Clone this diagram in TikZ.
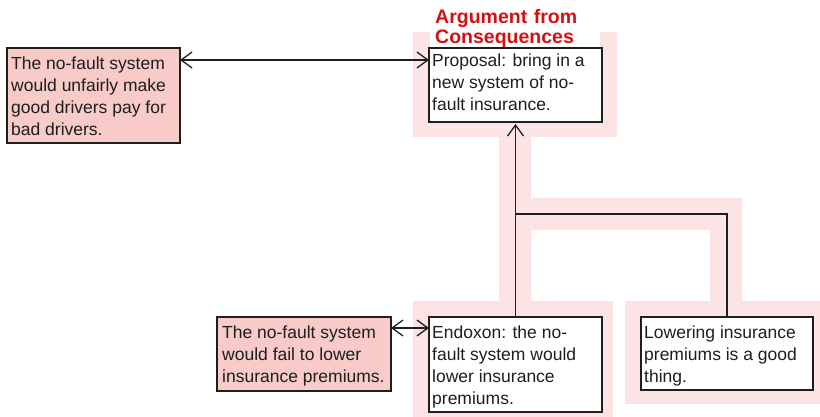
\documentclass[tikz,border=0pt]{standalone}
\usepackage{fontspec}
\setmainfont{Liberation Sans}
\usetikzlibrary{arrows.meta}
\definecolor{boxpink}{RGB}{248,202,200}
\definecolor{bandpink}{RGB}{253,228,228}
\definecolor{titlered}{RGB}{210,18,18}
\definecolor{ink}{RGB}{30,30,30}
\begin{document}
\begin{tikzpicture}[x=1pt,y=-1pt,
  box/.style={draw=ink, line width=1.4pt, anchor=north west, inner sep=0pt, outer sep=0pt},
  txt/.style={anchor=north west, inner sep=0pt, align=left, text=ink, font=\fontsize{17.5}{22}\selectfont},
  band/.style={fill=bandpink, draw=none},
  conn/.style={draw=ink, line width=1.3pt},
  tip/.tip={Straight Barb[length=11pt,width=16pt]},
  arr/.style={conn, -tip},
  darr/.style={conn, tip-tip}]
\useasboundingbox (0,0) rectangle (820,417);
% pink bands
\fill[band] (413,32) rectangle (617,137);
\fill[band] (499,137) rectangle (531,302);
\fill[band] (499,198) rectangle (742,230);
\fill[band] (710,198) rectangle (742,302);
\fill[band] (413,301) rectangle (613,417);
\fill[band] (625,301) rectangle (820,404);
% title
\node[anchor=south west, fill=white, inner xsep=5pt, inner ysep=0pt, text width=160pt, align=left,
      font=\bfseries\fontsize{19.5}{20}\selectfont, text=titlered] (T) at (430,48) {Argument from\\Consequences};
% boxes
\node[box, fill=boxpink, minimum width=173pt, minimum height=95pt] (L1) at (7,48) {};
\node[box, fill=white, minimum width=173pt, minimum height=74pt] (prop) at (429,48) {};
\node[box, fill=boxpink, minimum width=174pt, minimum height=74pt] (B1) at (217,317) {};
\node[box, fill=white, minimum width=173pt, minimum height=95pt] (endo) at (429,317) {};
\node[box, fill=white, minimum width=172pt, minimum height=73pt] (low) at (641,317) {};
% texts
\node[txt] (L1t) at ([shift={(4,9)}]L1.north west) {The no-fault system\\would unfairly make\\good drivers pay for\\bad drivers.};
\node[txt] (propt) at ([shift={(3,6)}]prop.north west) {Proposal: bring in a\\new system of no-\\fault insurance.};
\node[txt] (B1t) at ([shift={(5,9)}]B1.north west) {The no-fault system\\would fail to lower\\insurance premiums.};
\node[txt] (endot) at ([shift={(3,9)}]endo.north west) {Endoxon: the no-\\fault system would\\lower insurance\\premiums.};
\node[txt] (lowt) at ([shift={(3,9)}]low.north west) {Lowering insurance\\premiums is a good\\thing.};
% connectors
\coordinate (j) at (515.5,214);
\draw[arr] (endo.north) -- ([yshift=-2pt]prop.south);
\draw[conn] (low.north) |- (j);
\draw[darr] ([yshift=-12pt]L1.north east) -- ([yshift=-12pt]prop.north west);
\draw[darr] ([yshift=-11pt]B1.north east) -- ([yshift=-11pt]endo.north west);
\end{tikzpicture}
\end{document}
